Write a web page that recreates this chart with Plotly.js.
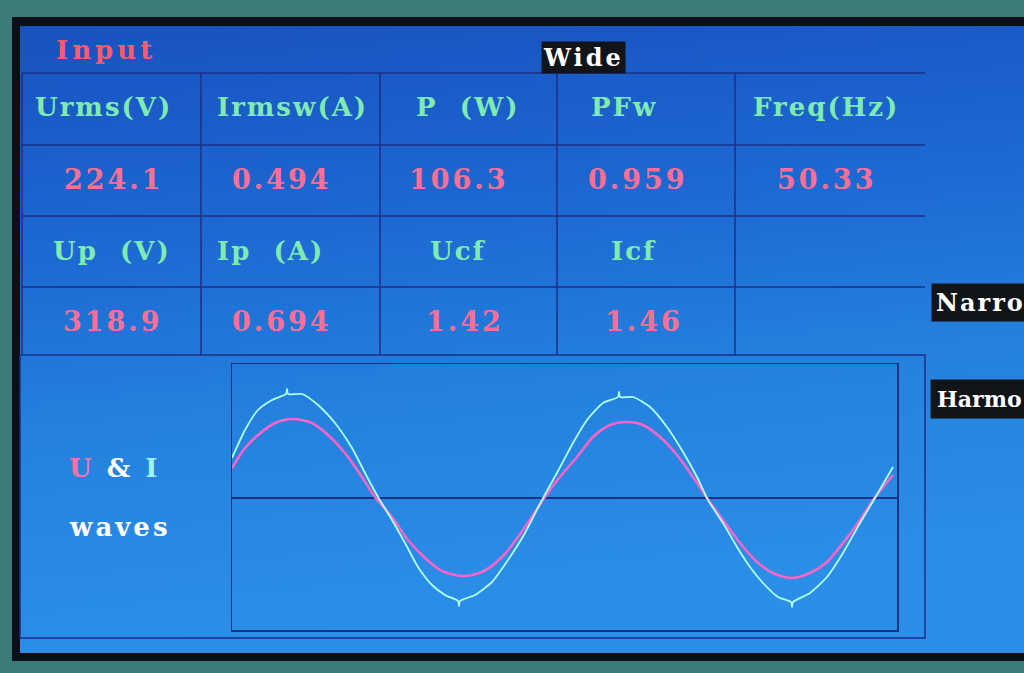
<!DOCTYPE html>
<html>
<head>
<meta charset="utf-8">
<script src="https://cdn.plot.ly/plotly-3.0.1.min.js"></script>
<style>
html,body{margin:0;padding:0;background:#3b7c78;overflow:hidden;}
#chart{width:1024px;height:673px;}
</style>
</head>
<body>
<div id="chart"></div>
<script>
// ---------------- data ----------------
var panelTitle = 'Input';
var modeLabels = ['Wide', 'Narro', 'Harmo'];
var headerRow1 = ['Urms(V)', 'Irmsw(A)', 'P\u00a0\u00a0(W)', 'PFw', 'Freq(Hz)'];
var valueRow1  = ['224.1', '0.494', '106.3', '0.959', '50.33'];
var headerRow2 = ['Up\u00a0\u00a0(V)', 'Ip\u00a0\u00a0(A)', 'Ucf', 'Icf'];
var valueRow2  = ['318.9', '0.694', '1.42', '1.46'];

// waveform samples (sample position, screen units; 0 = axis)
var uX = [0, 13, 26, 40, 54, 55, 56, 70, 86, 103, 120, 133, 146, 160, 173, 186, 200, 213, 226, 227, 228, 243, 260, 276, 293, 310, 326, 341, 355, 371, 386, 387, 388, 401, 418, 435, 451, 465, 476, 491, 505, 518, 531, 546, 559, 560, 561, 578, 595, 611, 628, 643, 661];
var uY = [40, 68, 88, 98, 104, 109, 104, 104, 93, 75, 50, 25, 1, -22, -45, -69, -87, -97, -103, -108, -103, -97, -84, -62, -35, -2, 27, 55, 78, 95, 101, 106, 101, 101, 91, 71, 46, 21, -2, -25, -49, -69, -85, -99, -104, -109, -104, -95, -79, -55, -25, 0, 31];
var iX = [0, 13, 26, 43, 61, 80, 96, 113, 130, 143, 160, 176, 193, 210, 230, 250, 270, 286, 303, 313, 327, 345, 361, 378, 395, 411, 428, 445, 461, 475, 491, 508, 525, 541, 560, 578, 595, 611, 628, 641, 661];
var iY = [30, 50, 63, 75, 79, 75, 63, 45, 21, 1, -19, -42, -60, -73, -78, -74, -59, -39, -14, 1, 20, 41, 61, 73, 76, 73, 61, 43, 21, 0, -22, -45, -64, -75, -80, -75, -64, -45, -22, -2, 23];

// ---------------- helpers (layout only) ----------------
var W = 1024, H = 673;
function px(x){ return x / W; }
function py(y){ return 1 - y / H; }

var FONT = 'DejaVu Serif';
var GRID = '#1c2f86';
var GREEN = '#7febb0';
var PINK = '#ff6f95';

// background (screen frame + blue gradient)
var bgSvg = '<svg xmlns="http://www.w3.org/2000/svg" width="1024" height="673" viewBox="0 0 1024 673" preserveAspectRatio="none">' +
  '<defs><linearGradient id="g" x1="0" y1="0" x2="0.15" y2="1">' +
  '<stop offset="0" stop-color="#1852bf"/><stop offset="0.35" stop-color="#1d68d2"/>' +
  '<stop offset="0.65" stop-color="#2482de"/><stop offset="1" stop-color="#2b8fe8"/></linearGradient></defs>' +
  '<rect x="0" y="0" width="1024" height="673" fill="#3b7c78"/>' +
  '<rect x="12" y="17" width="1012" height="644" fill="#0b0f18"/>' +
  '<rect x="20" y="26" width="1004" height="627" fill="url(#g)"/>' +
  '</svg>';
var bgSrc = 'data:image/svg+xml;base64,' + btoa(bgSvg);

// grid shapes
var shapes = [];
function hline(y, x0, x1){ shapes.push({type:'line', xref:'paper', yref:'paper', x0:px(x0), x1:px(x1), y0:py(y), y1:py(y), line:{color:GRID, width:1.5}, layer:'below'}); }
function vline(x, y0, y1){ shapes.push({type:'line', xref:'paper', yref:'paper', x0:px(x), x1:px(x), y0:py(y0), y1:py(y1), line:{color:GRID, width:1.5}, layer:'below'}); }
[73, 145, 216, 287].forEach(function(y){ hline(y, 22, 925); });
[201, 380, 557, 735].forEach(function(x){ vline(x, 73, 355); });
vline(22, 73, 355);
// lower panel
shapes.push({type:'rect', xref:'paper', yref:'paper', x0:px(20), x1:px(925), y0:py(638), y1:py(355), line:{color:GRID, width:1.5}, fillcolor:'rgba(0,0,0,0)', layer:'below'});

// annotations
var ann = [];
function txt(t, x, y, color, size, opts){
  var a = {text:'<span style="letter-spacing:' + ((opts && opts.ls!=null)?opts.ls:2) + 'px">' + t + '</span>',
    xref:'paper', yref:'paper', x:px(x), y:py(y), xanchor:(opts&&opts.xanchor)||'center', yanchor:'middle',
    showarrow:false, font:{family:FONT, size:size, color:color, weight:'bold'}};
  if(opts && opts.bg){ a.bgcolor = opts.bg; a.borderpad = opts.pad||2; }
  ann.push(a);
}
txt(panelTitle, 106, 50, '#ff5a6e', 26, {ls:4});
txt(modeLabels[0], 583, 57, '#ffffff', 24, {bg:'#111418', pad:1, ls:3});
txt(modeLabels[1], 931, 302, '#ffffff', 24, {bg:'#111418', pad:4, ls:2, xanchor:'left'});
txt(modeLabels[2], 930, 399, '#ffffff', 22, {bg:'#111418', pad:6, ls:0, xanchor:'left'});

var h1x = [103, 292, 467, 624, 826];
var v1x = [114, 282, 459, 638, 827];
var h2x = [112, 270, 458, 633];
var v2x = [113, 282, 465, 644];
headerRow1.forEach(function(t,i){ txt(t, h1x[i], 107, GREEN, 26, {ls:2}); });
valueRow1.forEach(function(t,i){ txt(t, v1x[i], 180, PINK, 27, {ls:3}); });
headerRow2.forEach(function(t,i){ txt(t, h2x[i], 251, GREEN, 26, {ls:2}); });
valueRow2.forEach(function(t,i){ txt(t, v2x[i], 321, PINK, 27, {ls:3}); });

ann.push({text:'<span style="letter-spacing:3px"><span style="color:#ff6fa8">U</span>\u00a0&amp;\u00a0<span style="color:#9ff3e6">I</span></span>',
  xref:'paper', yref:'paper', x:px(114), y:py(468), xanchor:'center', yanchor:'middle', showarrow:false,
  font:{family:FONT, size:26, color:'#ffffff', weight:'bold'}});
txt('waves', 120, 527, '#ffffff', 26, {ls:3});

var traces = [
  {x:iX, y:iY, type:'scatter', mode:'lines', name:'I', line:{color:'#ff64c8', width:2.5, shape:'spline', smoothing:0.8}},
  {x:uX, y:uY, type:'scatter', mode:'lines', name:'U', line:{color:'#b0fff0', width:1.8, shape:'spline', smoothing:0.6}}
];

var layout = {
  width:W, height:H,
  margin:{l:0, r:0, t:0, b:0},
  paper_bgcolor:'#3b7c78',
  plot_bgcolor:'rgba(0,0,0,0)',
  showlegend:false,
  hovermode:false,
  xaxis:{domain:[px(232), px(897)], range:[0, 665], showgrid:false, zeroline:false, showticklabels:false, ticks:'',
         showline:true, mirror:true, linecolor:GRID, linewidth:1.5, fixedrange:true},
  yaxis:{domain:[py(630), py(364)], range:[-132, 134], showgrid:false, zeroline:true, zerolinecolor:GRID, zerolinewidth:1.5,
         showticklabels:false, ticks:'', showline:true, mirror:true, linecolor:GRID, linewidth:1.5, fixedrange:true},
  images:[{source:bgSrc, xref:'paper', yref:'paper', x:0, y:1, sizex:1, sizey:1, xanchor:'left', yanchor:'top', sizing:'stretch', layer:'below'}],
  shapes:shapes,
  annotations:ann
};

Plotly.newPlot('chart', traces, layout, {staticPlot:true, displayModeBar:false});
</script>
</body>
</html>
